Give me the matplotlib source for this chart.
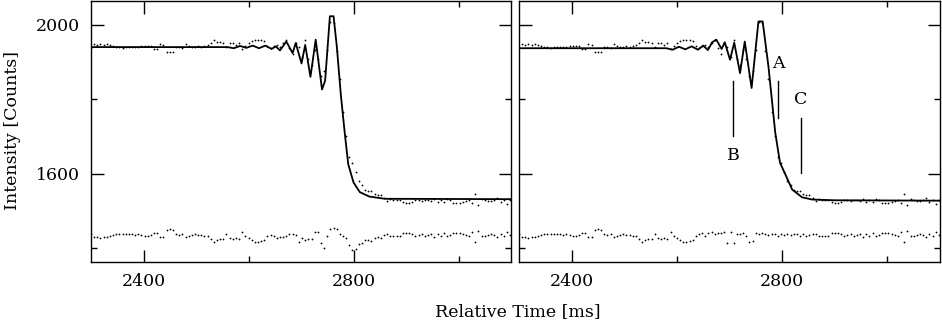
import numpy as np
import matplotlib
matplotlib.use("Agg")
import matplotlib.pyplot as plt
from matplotlib.ticker import MultipleLocator

plt.rcParams["font.family"] = ["DejaVu Serif"]

# sample times of the measured points [ms]
sample_time = np.arange(2300, 3100, 6)

# measured intensity [counts]
counts = [
    1938, 1948, 1946, 1949, 1947, 1948, 1945, 1942, 1939, 1940, 1938, 1940, 1939, 1940, 1941, 1939, 1942,
    1943, 1944, 1942, 1936, 1935, 1948, 1947, 1928, 1926, 1928, 1940, 1941, 1938, 1948, 1943, 1941,
    1940, 1942, 1941, 1944, 1945, 1952, 1960, 1955, 1953, 1952, 1939, 1950, 1950, 1947, 1952, 1935,
    1943, 1950, 1957, 1959, 1958, 1958, 1956, 1944, 1938, 1942, 1945, 1939, 1950, 1960, 1938, 1922,
    1952, 1941, 1913, 1960, 1908, 1892, 1933, 1909, 1862, 1877, 1931, 2007, 2005, 1930, 1855, 1765,
    1700, 1644, 1627, 1605, 1580, 1569, 1556, 1554, 1554, 1545, 1542, 1542, 1534,
    1526, 1531, 1530, 1529, 1529, 1523, 1522, 1521, 1524, 1529, 1528, 1525, 1530, 1528, 1525, 1532,
    1524, 1530, 1523, 1531, 1528, 1522, 1521, 1522, 1524, 1527, 1529, 1520, 1546, 1516, 1531, 1529,
    1527, 1526, 1528, 1534, 1524, 1529, 1518, 1528,
]

# residuals (model - data) shown below the curves, left and right model
resid_left = [
    2, -8, -6, -9, -7, -8, -5, -2, 1, 0, 2, 0, 1, 0, -1, 1, -2,
    -3, -4, -2, 4, 5, -8, -7, 12, 14, 12, 0, -1, 2, -8, -3, -1,
    0, -2, -1, -4, -5, -12, -20, -15, -13, -12, 1, -10, -11, -9, -12, 7,
    -4, -10, -16, -19, -20, -18, -15, -4, -2, -3, -9, -8, -7, -5, 0, 2,
    -1, -20, -10, -14, -13, -12, 7, 8, -22, -35, -3, 16, 18, 15, 0, -5,
    -10, -27, -42, -38, -25, -22, -15, -15, -18, -10, -8, -9, -2,
    0, -5, -4, -3, -3, 3, 4, 5, 2, -3, -2, 1, -4, -2, 1, -6,
    2, -4, 3, -5, -2, 4, 5, 4, 2, -1, -3, 6, -20, 10, -5, -3,
    -1, 0, -2, -8, 2, -3, 8, -2,
]
resid_right = [
    2, -8, -6, -9, -7, -8, -5, -2, 1, 0, 2, 0, 1, 0, -1, 1, -2,
    -3, -4, -2, 4, 5, -8, -7, 12, 14, 12, 0, -1, 2, -8, -3, -1,
    0, -2, -1, -4, -5, -12, -20, -15, -13, -12, 1, -10, -11, -9, -12, 7,
    -4, -10, -16, -19, -20, -18, -15, -4, 2, 4, -3, 5, 6, 2, 5, 3,
    6, -24, 6, -22, 2, 0, 3, -4, -20, -18, 3, 2, 4, 1, -2, 1,
    0, -3, 2, -1, 1, -2, 0, 1, -3, 0, -4, -2, 2,
    0, -5, -4, -3, -3, 3, 4, 5, 2, -3, -2, 1, -4, -2, 1, -6,
    2, -4, 3, -5, -2, 4, 5, 4, 2, -1, -3, 6, -20, 10, -5, -3,
    -1, 0, -2, -8, 2, -3, 8, -2,
]
resid_offset = 1436

# model curves
fit_left_time = [2300, 2560, 2572, 2584, 2596, 2608, 2620, 2632, 2644, 2652, 2660, 2672, 2684, 2690,
                 2701, 2708, 2718, 2728, 2740, 2746, 2755, 2762, 2768, 2776, 2784, 2790, 2800, 2812,
                 2830, 2860, 3100]
fit_left = [1940, 1940, 1937, 1943, 1938, 1944, 1937, 1944, 1935, 1942, 1931, 1955, 1924, 1951,
            1896, 1946, 1860, 1960, 1826, 1850, 2023, 2023, 1945, 1810, 1700, 1625, 1576, 1550,
            1538, 1532, 1531]
fit_right_time = [2300, 2580, 2592, 2604, 2616, 2628, 2640, 2650, 2659, 2667, 2675, 2685, 2691, 2701,
                  2709, 2720, 2729, 2742, 2755, 2763, 2774, 2787, 2796, 2806, 2819, 2838, 2857, 2900,
                  3100]
fit_right = [1937, 1937, 1933, 1941, 1934, 1942, 1933, 1944, 1932, 1953, 1960, 1935, 1953, 1906,
             1952, 1870, 1955, 1830, 2009, 2009, 1888, 1709, 1629, 1598, 1557, 1536, 1530, 1528,
             1527]

# feature markers in the right panel
mark_labels = ["A", "B", "C"]
mark_time = [2793, 2707, 2835]
mark_top = [1848, 1848, 1750]
mark_bottom = [1750, 1700, 1602]
mark_text_y = [1897, 1649, 1799]

W, H = 942, 325
fig = plt.figure(figsize=(W / 100, H / 100), dpi=100)
ax_l = fig.add_axes([91 / W, 1 - 262 / H, 420 / W, 261 / H])
ax_r = fig.add_axes([519 / W, 1 - 262 / H, 421 / W, 261 / H])


def style(ax):
    ax.set_xlim(2300, 3100)
    ax.set_ylim(1362, 2064)
    ax.xaxis.set_major_locator(MultipleLocator(400))
    ax.xaxis.set_minor_locator(MultipleLocator(200))
    ax.yaxis.set_major_locator(MultipleLocator(400))
    ax.yaxis.set_minor_locator(MultipleLocator(200))
    ax.tick_params(which="both", direction="in", top=True, right=True, width=1.0,
                   labelsize=12.5, pad=8)
    ax.tick_params(which="major", length=9)
    ax.tick_params(which="minor", length=4.5)
    for s in ax.spines.values():
        s.set_linewidth(1.0)


for ax, fit_t, fit_v, resid in [(ax_l, fit_left_time, fit_left, resid_left),
                                 (ax_r, fit_right_time, fit_right, resid_right)]:
    ax.plot(sample_time, counts, "o", ms=1.3, mec="none", color="black")
    ax.plot(sample_time, np.array(resid) + resid_offset, "o", ms=1.3, mec="none", color="black")
    ax.plot(fit_t, fit_v, color="black", lw=1.3)
    style(ax)

ax_r.tick_params(labelleft=False)

for lab, t, y0, y1, ty in zip(mark_labels, mark_time, mark_top, mark_bottom, mark_text_y):
    ax_r.plot([t, t], [y0, y1], color="black", lw=1.0)
    ax_r.text(t, ty, lab, ha="center", va="center", fontsize=12.5)

fig.text(13 / W, 1 - 131 / H, "Intensity [Counts]", rotation=90, ha="center", va="center",
         fontsize=12.5)
fig.text(518 / W, 1 - 312 / H, "Relative Time [ms]", ha="center", va="center", fontsize=12.5)

fig.savefig("out.png", dpi=100)
